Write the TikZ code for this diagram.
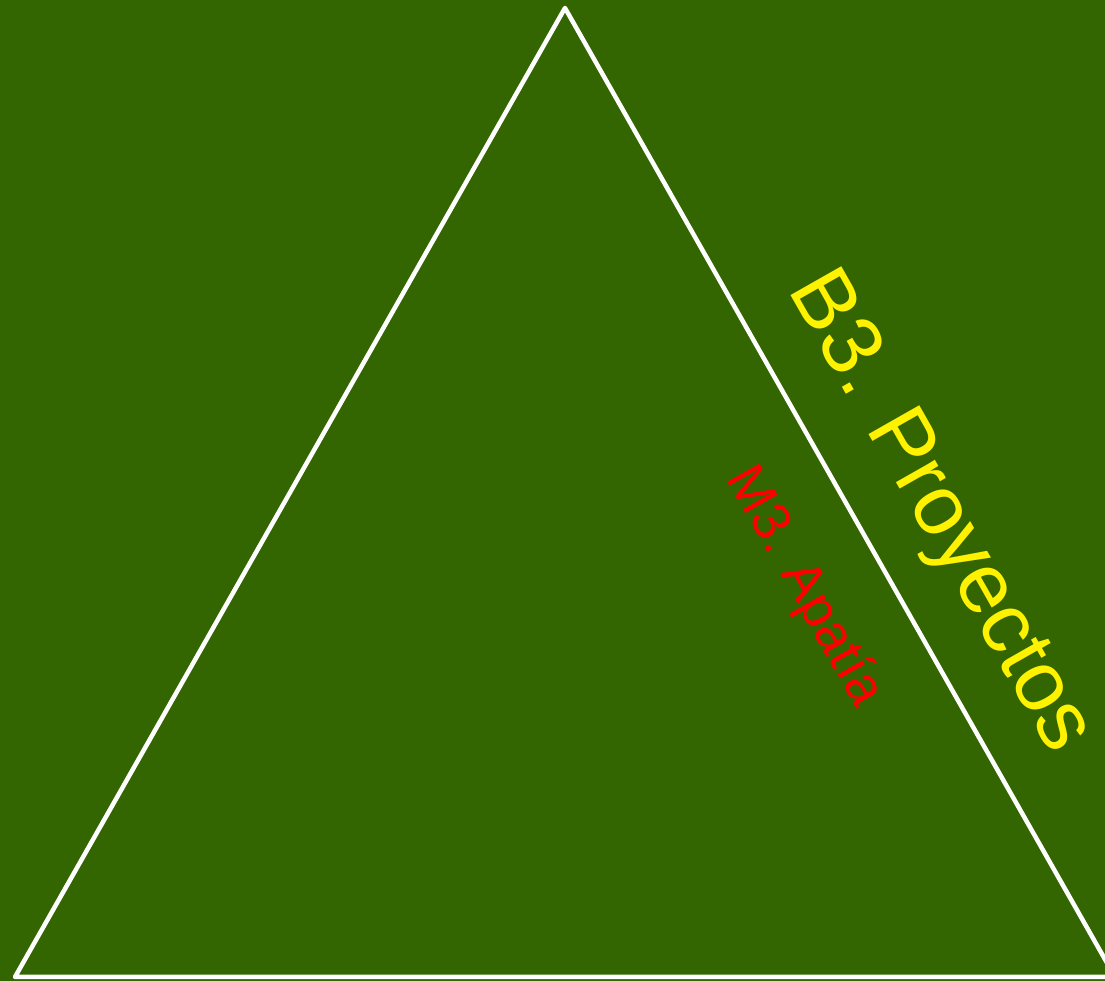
\documentclass[tikz,border=0pt]{standalone}
\usepackage{fontspec}
\setmainfont{Liberation Sans}
\definecolor{fondo}{HTML}{336600}
\begin{document}
\begin{tikzpicture}[x=1pt, y=1pt,
  etiqueta/.style={rotate=-60.4, inner sep=0pt}]
  % Fondo
  \useasboundingbox (0,0) rectangle (1105,981);
  \fill[fondo] (0,0) rectangle (1105,981);

  % Triangulo
  \coordinate (cima) at (565,973);
  \coordinate (izq) at (15,4);
  \coordinate (der) at (1115,4);
  \draw[white, line width=4.5pt, line join=round] (izq) -- (cima) -- (der) -- cycle;

  % Textos
  \node[etiqueta, text=yellow, font=\fontsize{85}{88}\selectfont] (bloque) at (938,468) {B3. Proyectos};
  \node[etiqueta, text=red, font=\fontsize{54}{56}\selectfont] (motivo) at (804,394) {M3. Apatía};
\end{tikzpicture}
\end{document}
